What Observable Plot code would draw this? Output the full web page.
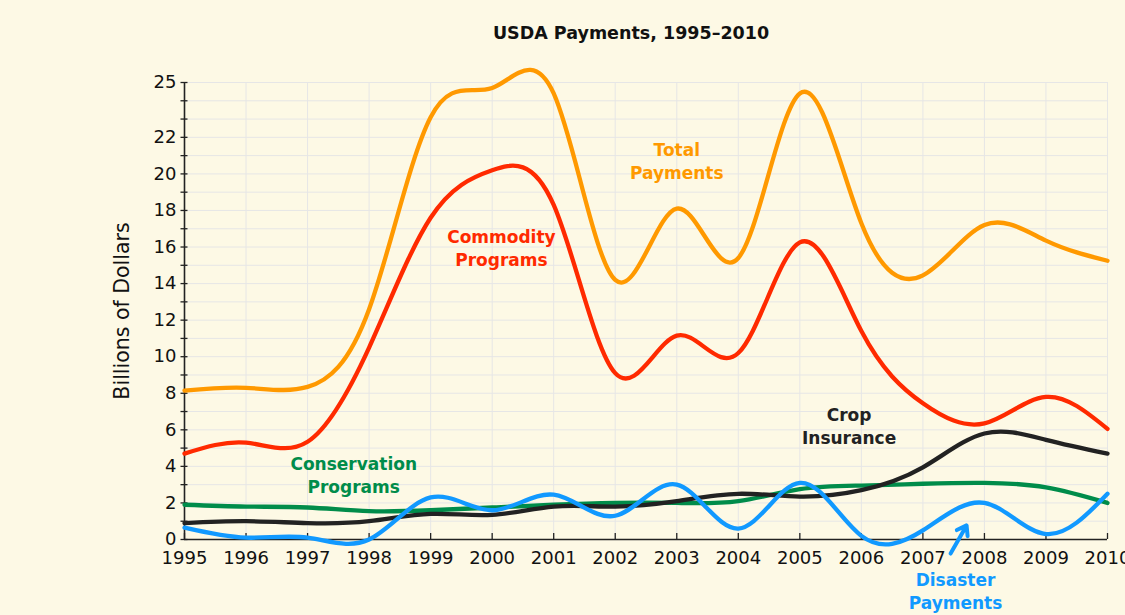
<!DOCTYPE html>
<html>
<head>
<meta charset="utf-8">
<script src="https://cdn.jsdelivr.net/npm/d3@7"></script>
<script src="https://cdn.jsdelivr.net/npm/@observablehq/plot@0.6"></script>
<style>
  html, body { margin: 0; padding: 0; background: #fdf9e5; }
  #chart { width: 1125px; height: 615px; }
</style>
</head>
<body>
<div id="chart"></div>
<script>
const years = d3.range(1995, 2011);
const totalPayments     = [8.15, 8.3, 8.35, 12.6, 23.1, 24.7, 24.4, 14.2, 18.1, 15.4, 24.4, 17.3, 14.45, 17.2, 16.35, 15.25];
const commodityPrograms = [4.7, 5.3, 5.35, 10.5, 17.6, 20.2, 18.3, 9.1, 11.15, 10.2, 16.25, 11.4, 7.45, 6.35, 7.8, 6.05];
const conservation      = [1.9, 1.8, 1.75, 1.55, 1.6, 1.75, 1.9, 2.0, 2.0, 2.1, 2.75, 2.95, 3.05, 3.1, 2.85, 2.0];
const cropInsurance     = [0.9, 1.0, 0.9, 1.0, 1.4, 1.35, 1.8, 1.8, 2.1, 2.5, 2.35, 2.7, 3.95, 5.8, 5.45, 4.7];
const disasterPayments  = [0.65, 0.1, 0.1, 0.0, 2.3, 1.6, 2.45, 1.3, 3.0, 0.6, 3.1, 0.2, 0.5, 2.0, 0.3, 2.5];

const seriesNames  = ["Total Payments", "Commodity Programs", "Conservation Programs", "Crop Insurance", "Disaster Payments"];
const seriesValues = [totalPayments, commodityPrograms, conservation, cropInsurance, disasterPayments];
const seriesColors = ["#ff9900", "#ff2a00", "#008c4a", "#222222", "#1199ff"];

const yTickValues  = d3.range(0, 26);
const yTickLabels  = [0, 2, 4, 6, 8, 10, 12, 14, 16, 18, 20, 22, 25];

// label annotations (data coordinates)
const labelText = ["Total\nPayments", "Commodity\nPrograms", "Conservation\nPrograms", "Crop\nInsurance", "Disaster\nPayments"];
const labelX    = [2003.0, 2000.15, 1997.75, 2005.8, 2007.53];
const labelY    = [20.76, 16.0, 3.58, 6.26, -2.76];
const arrowFrom = {x: 2007.45, y: -0.77};
const arrowTo   = {x: 2007.71, y: 0.77};

const title = "USDA Payments, 1995–2010";
const yLabel = "Billions of Dollars";

const rows = [];
seriesNames.forEach((name, i) => years.forEach((yr, j) => rows.push({series: name, year: yr, value: seriesValues[i][j]})));
const labels = labelText.map((t, i) => ({text: t, x: labelX[i], y: labelY[i], color: seriesColors[i]}));

const font = "DejaVu Sans, sans-serif";

const chart = Plot.plot({
  width: 1125,
  height: 615,
  marginLeft: 184,
  marginRight: 18,
  marginTop: 82,
  marginBottom: 76,
  style: {background: "#fdf9e5", fontFamily: font, overflow: "visible"},
  x: {domain: [1995, 2010]},
  y: {domain: [0, 25]},
  color: {domain: seriesNames, range: seriesColors},
  marks: [
    Plot.gridX(years, {stroke: "#e6e6e6", strokeOpacity: 1, strokeWidth: 1}),
    Plot.gridY(yTickValues, {stroke: "#e6e6e6", strokeOpacity: 1, strokeWidth: 1}),
    Plot.axisY(yTickValues, {
      tickSize: 7, dx: 3.5, tickPadding: 4.5, fontSize: 18, fill: "#111", stroke: "#222", strokeWidth: 1.3,
      tickFormat: d => yTickLabels.includes(d) ? String(d) : ""
    }),
    Plot.axisX(years, {
      tickSize: 6, dy: -6, tickPadding: 12, fontSize: 18, fill: "#111", stroke: "#222", strokeWidth: 1.3,
      tickFormat: d => String(d)
    }),
    Plot.ruleX([1995], {y1: 0, y2: 25, stroke: "#222", strokeWidth: 1.6}),
    Plot.ruleY([0], {stroke: "#222", strokeWidth: 1.6}),
    Plot.line(rows, {x: "year", y: "value", z: "series", stroke: "series", strokeWidth: 4.3, curve: "natural"}),
    Plot.text(labels, {x: "x", y: "y", text: "text", fill: "color", fontSize: 17, fontWeight: "bold", lineHeight: 1.35, lineAnchor: "middle"}),
    Plot.arrow([0], {x1: () => arrowFrom.x, y1: () => arrowFrom.y, x2: () => arrowTo.x, y2: () => arrowTo.y,
      stroke: seriesColors[4], strokeWidth: 4, headLength: 20, headAngle: 70}),
    Plot.text([title], {frameAnchor: "top", dy: -49, dx: -15, lineAnchor: "middle", fontSize: 17.5, fontWeight: "bold", fill: "#111"}),
    Plot.text([yLabel], {frameAnchor: "left", rotate: -90, dx: -62, textAnchor: "middle", lineAnchor: "middle", fontSize: 20.5, fill: "#111"})
  ]
});
document.getElementById("chart").append(chart);
</script>
</body>
</html>
